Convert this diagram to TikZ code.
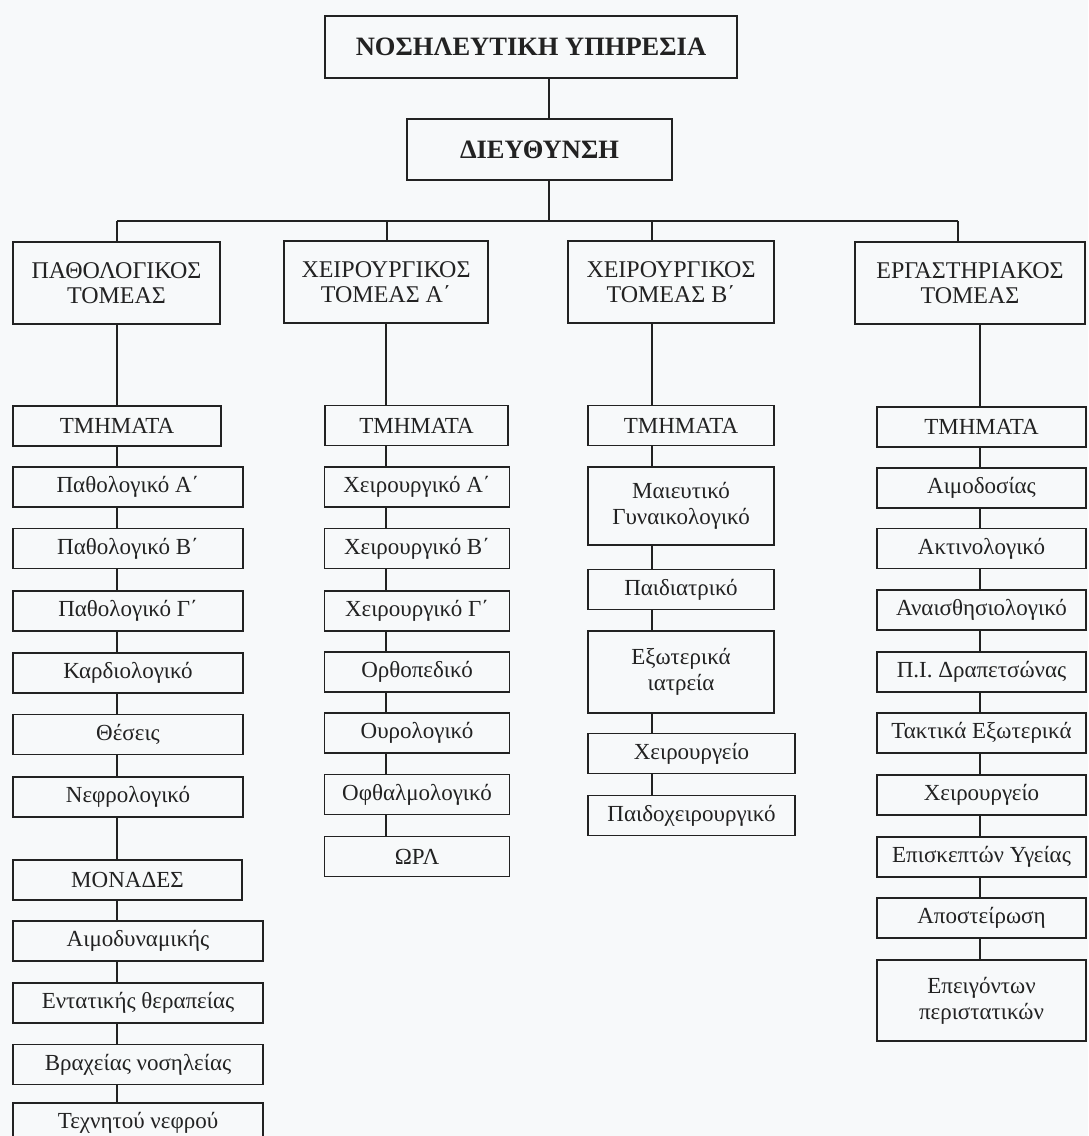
\documentclass[tikz,border=0pt]{standalone}
\usepackage{fontspec}
\setmainfont{Liberation Serif}
\usepackage{xcolor}
\definecolor{paper}{HTML}{F7F9FA}
\definecolor{ink}{HTML}{222222}

\begin{document}
\begin{tikzpicture}[x=1pt, y=-1pt, color=ink]
    % Styles
    \tikzstyle{head} = [draw, line width=1.5pt, inner sep=0pt, font=\fontsize{26.5}{29}\selectfont\bfseries]
    \tikzstyle{sector} = [draw, line width=1.5pt, inner sep=0pt, minimum height=82pt, align=center, font=\fontsize{24}{25}\selectfont]
    \tikzstyle{unit} = [draw, line width=1.5pt, inner sep=0pt, minimum height=40pt, align=center, font=\fontsize{23}{26}\selectfont]
    \tikzstyle{link} = [draw, line width=1.5pt]

    % Page
    \fill[paper] (0,0) rectangle (1088,1136);
    \useasboundingbox (0,0) rectangle (1088,1136);
    \clip (0,0) rectangle (1088,1136);

    % Top
    \node[head, minimum width=412pt, minimum height=62pt] (nosil) at (531,47) {ΝΟΣΗΛΕΥΤΙΚΗ ΥΠΗΡΕΣΙΑ};
    \node[head, minimum width=265pt, minimum height=61pt] (dieyth) at (539.5,149.5) {ΔΙΕΥΘΥΝΣΗ};

    % Branch points and column lines
    \coordinate (trunk) at (549,221);
    \coordinate (b1) at (117,221);
    \coordinate (b2) at (387,221);
    \coordinate (b3) at (652,221);
    \coordinate (b4) at (958,221);
    \coordinate (v1) at (117,0);
    \coordinate (v2) at (386,0);
    \coordinate (v3) at (652,0);
    \coordinate (v4) at (980,0);

    % Sectors
    \node[sector, minimum width=207pt] (path) at (116.5,283) {ΠΑΘΟΛΟΓΙΚΟΣ\\ΤΟΜΕΑΣ};
    \node[sector, minimum width=204pt] (xa) at (386,282) {ΧΕΙΡΟΥΡΓΙΚΟΣ\\ΤΟΜΕΑΣ Α΄};
    \node[sector, minimum width=206pt] (xb) at (671,282) {ΧΕΙΡΟΥΡΓΙΚΟΣ\\ΤΟΜΕΑΣ Β΄};
    \node[sector, minimum width=230pt] (erg) at (970,283) {ΕΡΓΑΣΤΗΡΙΑΚΟΣ\\ΤΟΜΕΑΣ};

    % Column 1: Pathology
    \node[unit, minimum width=208pt] (pt) at (117,426) {ΤΜΗΜΑΤΑ};
    \node[unit, minimum width=230pt] (pa) at (128,487) {Παθολογικό Α΄};
    \node[unit, minimum width=230pt] (pb) at (128,548.5) {Παθολογικό Β΄};
    \node[unit, minimum width=230pt] (pg) at (128,611) {Παθολογικό Γ΄};
    \node[unit, minimum width=230pt] (kard) at (128,673) {Καρδιολογικό};
    \node[unit, minimum width=230pt] (thes) at (128,734.5) {Θέσεις};
    \node[unit, minimum width=230pt] (nefr) at (128,797) {Νεφρολογικό};
    \node[unit, minimum width=229pt] (mon) at (127.5,880) {ΜΟΝΑΔΕΣ};
    \node[unit, minimum width=250pt] (aimd) at (138,941) {Αιμοδυναμικής};
    \node[unit, minimum width=250pt] (entat) at (138,1003) {Εντατικής θεραπείας};
    \node[unit, minimum width=250pt] (vrax) at (138,1064.5) {Βραχείας νοσηλείας};
    \node[unit, minimum width=250pt] (texn) at (138,1123) {Τεχνητού νεφρού};

    % Column 2: Surgery A
    \node[unit, minimum width=183pt] (xat) at (416.5,425.5) {ΤΜΗΜΑΤΑ};
    \node[unit, minimum width=185pt] (xa1) at (417,487) {Χειρουργικό Α΄};
    \node[unit, minimum width=185pt] (xb1) at (417,548.5) {Χειρουργικό Β΄};
    \node[unit, minimum width=185pt] (xg1) at (417,611) {Χειρουργικό Γ΄};
    \node[unit, minimum width=185pt] (orth) at (417,672) {Ορθοπεδικό};
    \node[unit, minimum width=185pt] (our) at (417,733) {Ουρολογικό};
    \node[unit, minimum width=185pt] (ofth) at (417,794.5) {Οφθαλμολογικό};
    \node[unit, minimum width=185pt] (orl) at (417,856.5) {ΩΡΛ};

    % Column 3: Surgery B
    \node[unit, minimum width=186pt] (xbt) at (681,425.5) {ΤΜΗΜΑΤΑ};
    \node[unit, minimum width=186pt, minimum height=78pt] (maie) at (681,506) {Μαιευτικό\\Γυναικολογικό};
    \node[unit, minimum width=186pt] (paid) at (681,589.5) {Παιδιατρικό};
    \node[unit, minimum width=186pt, minimum height=82pt] (exot) at (681,672) {Εξωτερικά\\ιατρεία};
    \node[unit, minimum width=207pt] (xeir) at (691.5,753.5) {Χειρουργείο};
    \node[unit, minimum width=207pt] (paidx) at (691.5,815.5) {Παιδοχειρουργικό};

    % Column 4: Laboratory
    \node[unit, minimum width=209pt] (et) at (981.5,427) {ΤΜΗΜΑΤΑ};
    \node[unit, minimum width=209pt] (aimo) at (981.5,488) {Αιμοδοσίας};
    \node[unit, minimum width=209pt] (akt) at (981.5,548.5) {Ακτινολογικό};
    \node[unit, minimum width=209pt] (anais) at (981.5,610) {Αναισθησιολογικό};
    \node[unit, minimum width=209pt] (pid) at (981.5,672) {Π.Ι. Δραπετσώνας};
    \node[unit, minimum width=209pt] (takt) at (981.5,733) {Τακτικά Εξωτερικά};
    \node[unit, minimum width=209pt] (xeir4) at (981.5,795) {Χειρουργείο};
    \node[unit, minimum width=209pt] (episk) at (981.5,857) {Επισκεπτών Υγείας};
    \node[unit, minimum width=209pt] (apost) at (981.5,918) {Αποστείρωση};
    \node[unit, minimum width=209pt, minimum height=81pt] (epeig) at (981.5,1000.5) {Επειγόντων\\περιστατικών};

    % Lines: top
    \draw[link] (nosil.south -| trunk) -- (dieyth.north -| trunk);
    \draw[link] (dieyth.south -| trunk) -- (trunk);
    \draw[link] (b1) -- (b4);
    \draw[link] (b1) -- (path.north -| b1);
    \draw[link] (b2) -- (xa.north -| b2);
    \draw[link] (b3) -- (xb.north -| b3);
    \draw[link] (b4) -- (erg.north -| b4);

    % Lines: column 1
    \draw[link] (path.south -| v1) -- (pt.north -| v1);
    \draw[link] (pt.south -| v1) -- (pa.north -| v1);
    \draw[link] (pa.south -| v1) -- (pb.north -| v1);
    \draw[link] (pb.south -| v1) -- (pg.north -| v1);
    \draw[link] (pg.south -| v1) -- (kard.north -| v1);
    \draw[link] (kard.south -| v1) -- (thes.north -| v1);
    \draw[link] (thes.south -| v1) -- (nefr.north -| v1);
    \draw[link] (nefr.south -| v1) -- (mon.north -| v1);
    \draw[link] (mon.south -| v1) -- (aimd.north -| v1);
    \draw[link] (aimd.south -| v1) -- (entat.north -| v1);
    \draw[link] (entat.south -| v1) -- (vrax.north -| v1);
    \draw[link] (vrax.south -| v1) -- (texn.north -| v1);

    % Lines: column 2
    \draw[link] (xa.south -| v2) -- (xat.north -| v2);
    \draw[link] (xat.south -| v2) -- (xa1.north -| v2);
    \draw[link] (xa1.south -| v2) -- (xb1.north -| v2);
    \draw[link] (xb1.south -| v2) -- (xg1.north -| v2);
    \draw[link] (xg1.south -| v2) -- (orth.north -| v2);
    \draw[link] (orth.south -| v2) -- (our.north -| v2);
    \draw[link] (our.south -| v2) -- (ofth.north -| v2);
    \draw[link] (ofth.south -| v2) -- (orl.north -| v2);

    % Lines: column 3
    \draw[link] (xb.south -| v3) -- (xbt.north -| v3);
    \draw[link] (xbt.south -| v3) -- (maie.north -| v3);
    \draw[link] (maie.south -| v3) -- (paid.north -| v3);
    \draw[link] (paid.south -| v3) -- (exot.north -| v3);
    \draw[link] (exot.south -| v3) -- (xeir.north -| v3);
    \draw[link] (xeir.south -| v3) -- (paidx.north -| v3);

    % Lines: column 4
    \draw[link] (erg.south -| v4) -- (et.north -| v4);
    \draw[link] (et.south -| v4) -- (aimo.north -| v4);
    \draw[link] (aimo.south -| v4) -- (akt.north -| v4);
    \draw[link] (akt.south -| v4) -- (anais.north -| v4);
    \draw[link] (anais.south -| v4) -- (pid.north -| v4);
    \draw[link] (pid.south -| v4) -- (takt.north -| v4);
    \draw[link] (takt.south -| v4) -- (xeir4.north -| v4);
    \draw[link] (xeir4.south -| v4) -- (episk.north -| v4);
    \draw[link] (episk.south -| v4) -- (apost.north -| v4);
    \draw[link] (apost.south -| v4) -- (epeig.north -| v4);
\end{tikzpicture}
\end{document}
